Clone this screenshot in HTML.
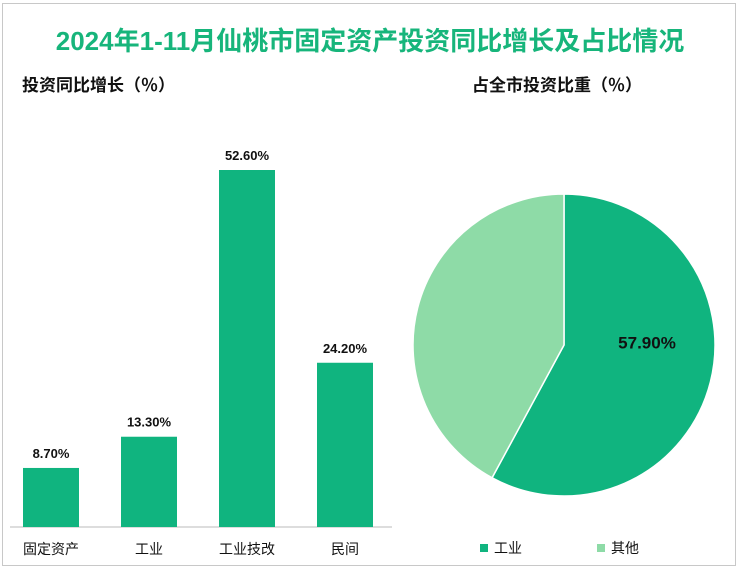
<!DOCTYPE html>
<html><head><meta charset="utf-8"><style>
body{margin:0;background:#fff;}
#wrap{position:relative;width:740px;height:570px;overflow:hidden;font-family:"Liberation Sans","Noto Sans CJK SC",sans-serif;}
#frame{position:absolute;left:2px;top:3px;width:734px;height:563px;border:1px solid #c8c8c8;box-sizing:border-box;}
svg text{font-family:"Liberation Sans","Noto Sans CJK SC",sans-serif;}
</style></head><body>
<div id="wrap">
<div id="frame"></div>
<svg id="svg" width="740" height="570" style="position:absolute;left:0;top:0">
<text x="370" y="50" text-anchor="middle" font-size="26" font-weight="bold" fill="#17b57b">2024年1-11月仙桃市固定资产投资同比增长及占比情况</text>
<text x="22" y="91" font-size="17" font-weight="bold" fill="#111">投资同比增长（％）</text>
<text x="472" y="91" font-size="17" font-weight="bold" fill="#111">占全市投资比重（％）</text>
<line x1="10" y1="527" x2="392" y2="527" stroke="#bbb" stroke-width="1"/>
<g id="bars"></g>
<g id="pie"></g>
<rect x="480" y="544" width="8" height="8" fill="#10b47f"/>
<text x="494" y="553" font-size="14" fill="#111">工业</text>
<rect x="597" y="544" width="8" height="8" fill="#8edba7"/>
<text x="611" y="553" font-size="14" fill="#111">其他</text>
</svg>
</div>
<script>
const categories=["固定资产","工业","工业技改","民间"];
const values=[8.7,13.3,52.6,24.2];
const valueLabels=["8.70%","13.30%","52.60%","24.20%"];
const pieLabels=["工业","其他"];
const pieValues=[57.9,42.1];
const NS="http://www.w3.org/2000/svg";
const bars=document.getElementById('bars');
const base=527, scale=357/52.6;
const y=v=>base-v*scale;
const xc=i=>51+i*98;
values.forEach((v,i)=>{
 const r=document.createElementNS(NS,'rect');
 r.setAttribute('x',xc(i)-28);r.setAttribute('y',y(v));r.setAttribute('width',56);r.setAttribute('height',base-y(v));r.setAttribute('fill','#10b47f');
 
 
 bars.appendChild(r);
 const t=document.createElementNS(NS,'text');
 t.setAttribute('x',xc(i));t.setAttribute('y',y(v)-10);t.setAttribute('text-anchor','middle');t.setAttribute('font-size','13');t.setAttribute('font-weight','bold');t.setAttribute('fill','#111');t.textContent=valueLabels[i];
 
 
 bars.appendChild(t);
 const c=document.createElementNS(NS,'text');
 c.setAttribute('x',xc(i));c.setAttribute('y',554);c.setAttribute('text-anchor','middle');c.setAttribute('font-size','14');c.setAttribute('fill','#111');c.textContent=categories[i];
 
 
 bars.appendChild(c);
});
const pie=document.getElementById('pie');
const cx=564,cy=345,R=151;const colors=["#10b47f","#8edba7"];
const tot=pieValues.reduce((a,b)=>a+b,0);let a0=-Math.PI/2;
pieValues.forEach((v,i)=>{
 const a1=a0+v/tot*2*Math.PI;
 const p=document.createElementNS(NS,'path');
 const large=(a1-a0)>Math.PI?1:0;
 p.setAttribute('d',`M${cx},${cy} L${cx+R*Math.cos(a0)},${cy+R*Math.sin(a0)} A${R},${R} 0 ${large} 1 ${cx+R*Math.cos(a1)},${cy+R*Math.sin(a1)} Z`);
 p.setAttribute('fill',colors[i]);p.setAttribute('stroke','#fff');p.setAttribute('stroke-width','1.5');
 
 
 pie.appendChild(p);
 if(i===0){
  const am=(a0+a1)/2-0.28;
  const t=document.createElementNS(NS,'text');
  t.setAttribute('x',cx+R*0.55*Math.cos(am));t.setAttribute('y',cy+R*0.55*Math.sin(am)+6);t.setAttribute('text-anchor','middle');t.setAttribute('font-size','17');t.setAttribute('font-weight','bold');t.setAttribute('fill','#111');t.textContent=v.toFixed(2)+'%';
  
  
  pie.appendChild(t);
 }
 a0=a1;
});
</script>
</body></html>
